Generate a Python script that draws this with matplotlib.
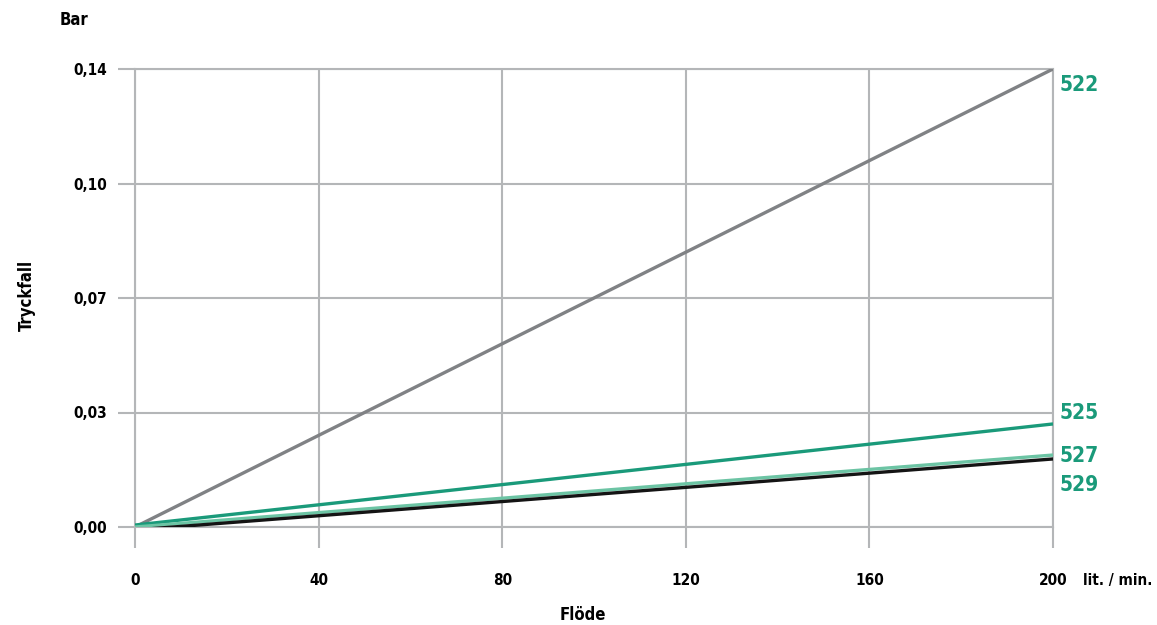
import matplotlib
matplotlib.use("Agg")
import matplotlib.pyplot as plt

plt.rcParams['font.family'] = ['DejaVu Sans']
plt.rcParams['font.stretch'] = 'condensed'

flow = [0, 200]
series_names = ["522", "525", "527", "529"]
s522 = [0.0, 0.140]
s525 = [0.0006, 0.0315]
s527 = [0.0, 0.0220]
s529 = [-0.0009, 0.0208]
series_values = [s522, s525, s527, s529]
series_colors = ["#808285", "#1a9a7a", "#6cc4a4", "#141414"]
label_y = [0.135, 0.0348, 0.0218, 0.0128]

x_ticks = [0, 40, 80, 120, 160, 200]
x_tick_labels = ["0", "40", "80", "120", "160", "200"]
y_ticks = [0.0, 0.035, 0.07, 0.105, 0.14]
y_tick_labels = ["0,00", "0,03", "0,07", "0,10", "0,14"]

fig = plt.figure(figsize=(11.57, 6.25), dpi=100)
ax = fig.add_axes([135/1157, 1-527/625, 918/1157, 458/625])

grid_c = "#b4b6b8"
for s in ax.spines.values():
    s.set_color(grid_c)
    s.set_linewidth(1.5)
ax.grid(True, color=grid_c, linewidth=1.5)
ax.set_axisbelow(True)

for vals, c in zip(series_values, series_colors):
    ax.plot(flow, vals, color=c, linewidth=2.4, solid_capstyle='butt', zorder=3)

ax.set_xlim(0, 200)
ax.set_ylim(0, 0.14)
ax.set_xticks(x_ticks)
ax.set_xticklabels(x_tick_labels, fontsize=11, fontweight='bold', fontstretch='condensed')
ax.set_yticks(y_ticks)
ax.set_yticklabels(y_tick_labels, fontsize=11, fontweight='bold', fontstretch='condensed')
ax.tick_params(axis='x', length=15, width=1.5, color=grid_c, pad=18)
ax.tick_params(axis='y', length=12, width=1.5, color=grid_c, pad=8)

for name, ly in zip(series_names, label_y):
    ax.text(201.5, ly, name, color="#1a9a7a", fontsize=15, fontweight='bold',
            fontstretch='condensed', va='center', ha='left', clip_on=False)

fig.text(1083/1157, 1-581/625, "lit. / min.", fontsize=11, fontweight='bold',
         fontstretch='condensed', va='center', ha='left')
fig.text(583/1157, 1-615/625, "Flöde", fontsize=12, fontweight='bold',
         fontstretch='condensed', ha='center', va='center')
fig.text(27/1157, 1-295/625, "Tryckfall", fontsize=12, fontweight='bold',
         fontstretch='condensed', rotation=90, ha='center', va='center')
fig.text(60/1157, 1-20/625, "Bar", fontsize=12, fontweight='bold',
         fontstretch='condensed', ha='left', va='center')

fig.savefig("out.png", dpi=100)
